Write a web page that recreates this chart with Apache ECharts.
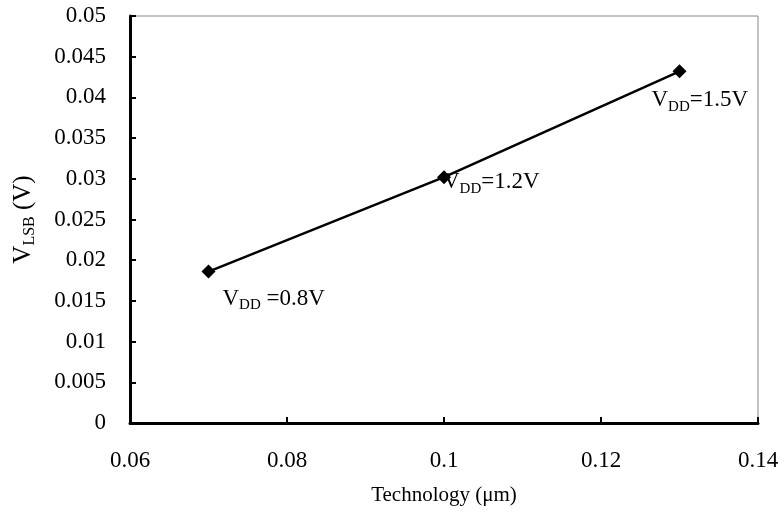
<!DOCTYPE html>
<html>
<head>
<meta charset="utf-8">
<script src="https://cdn.jsdelivr.net/npm/echarts@6/dist/echarts.min.js"></script>
<style>
  html, body { margin: 0; padding: 0; background: #fff; }
  #chart { width: 783px; height: 521px; }
</style>
</head>
<body>
<div id="chart"></div>
<script>
// technology node (um) vs LSB voltage (V)
const techNodes = [0.07, 0.1, 0.13]
const vlsb = [0.0186, 0.0302, 0.0432]
const vddLabels = [' =0.8V', '=1.2V', '=1.5V']
// label offsets from the marker, px
const labelPos = [[21, 20], [6, -2], [-21, 22]]

const serif = 'Liberation Serif'

const chart = echarts.init(document.getElementById('chart'))

const richText = {
  v: { fontFamily: serif, fontSize: 23, color: '#000' },
  s: { fontFamily: serif, fontSize: 15, color: '#000', padding: [13, 0, 0, 0] }
}
const nameRich = {
  v: { fontFamily: serif, fontSize: 25, color: '#000' },
  s: { fontFamily: serif, fontSize: 16, color: '#000', padding: [13, 0, 0, 0] }
}

chart.setOption({
  animation: false,
  grid: {
    left: 130,
    right: 25,
    top: 16,
    bottom: 98,
    containLabel: false,
    outerBoundsMode: 'none',
    show: true,
    borderColor: '#888',
    borderWidth: 1
  },
  xAxis: {
    type: 'value',
    min: 0.06,
    max: 0.14,
    interval: 0.02,
    name: 'Technology (μm)',
    nameLocation: 'middle',
    nameGap: 62,
    nameTextStyle: { fontFamily: serif, fontSize: 21, color: '#000' },
    axisLine: { lineStyle: { color: '#000', width: 3 } },
    axisTick: { inside: true, length: 6, lineStyle: { color: '#000', width: 2 } },
    axisLabel: { fontFamily: serif, fontSize: 23, color: '#000', margin: 26 },
    splitLine: { show: false }
  },
  yAxis: {
    type: 'value',
    min: 0,
    max: 0.05,
    interval: 0.005,
    name: '{v|V}{s|LSB}{v| (V)}',
    nameLocation: 'middle',
    nameGap: 92,
    nameTextStyle: { rich: nameRich },
    axisLine: { lineStyle: { color: '#000', width: 3 } },
    axisTick: { inside: true, length: 6, lineStyle: { color: '#000', width: 2 } },
    axisLabel: { fontFamily: serif, fontSize: 23, color: '#000', margin: 24 },
    splitLine: { show: false }
  },
  series: [{
    type: 'line',
    data: techNodes.map((x, i) => ({
      value: [x, vlsb[i]],
      label: {
        show: true,
        position: labelPos[i],
        formatter: '{v|V}{s|DD}{v|' + vddLabels[i] + '}',
        rich: richText
      }
    })),
    symbol: 'diamond',
    symbolSize: 14,
    lineStyle: { color: '#000', width: 2.5 },
    itemStyle: { color: '#000' }
  }]
})
</script>
</body>
</html>
